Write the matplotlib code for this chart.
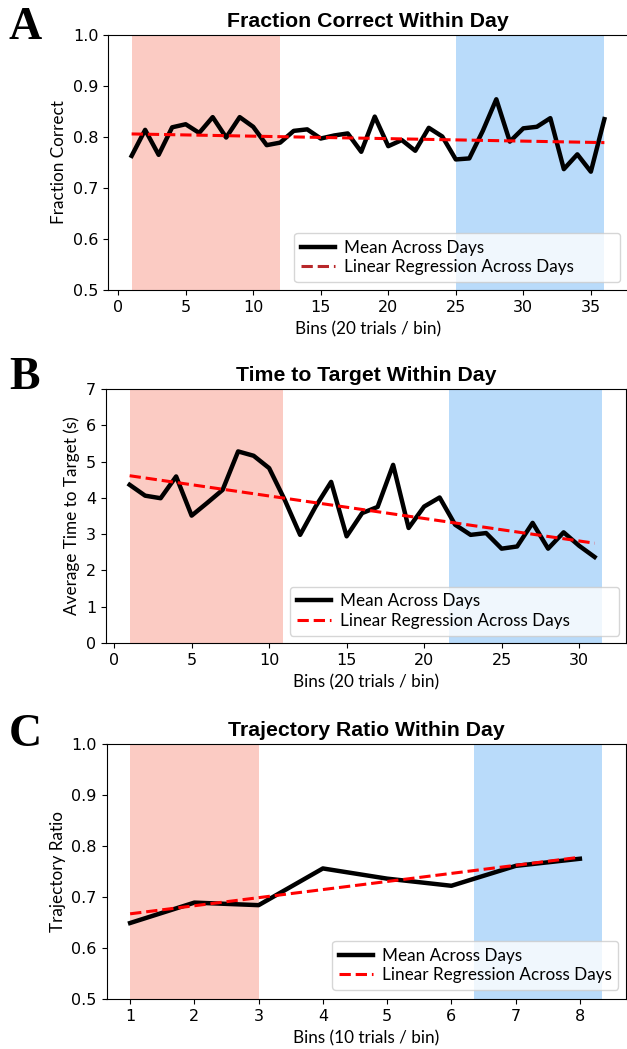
import matplotlib
matplotlib.use("Agg")
import matplotlib.pyplot as plt
import numpy as np

# panel A: fraction correct, 36 bins of 20 trials
bins_a = np.arange(1, 37)
frac_correct = [0.763, 0.814, 0.765, 0.819, 0.825, 0.808, 0.839, 0.799, 0.839, 0.820,
                0.784, 0.789, 0.812, 0.815, 0.797, 0.803, 0.807, 0.771, 0.840, 0.782,
                0.794, 0.773, 0.818, 0.801, 0.756, 0.758, 0.812, 0.874, 0.791, 0.817,
                0.820, 0.837, 0.737, 0.766, 0.732, 0.835]
reg_a_x = [1, 36]
reg_a_y = [0.806, 0.789]
early_a = (1, 12)
late_a = (25, 36)

# panel B: time to target, 31 bins of 20 trials
bins_b = np.arange(1, 32)
time_target = [4.36, 4.06, 3.99, 4.59, 3.51, 3.86, 4.22, 5.28, 5.16, 4.82,
               3.95, 2.98, 3.76, 4.44, 2.94, 3.58, 3.75, 4.91, 3.17, 3.76,
               4.01, 3.26, 2.98, 3.03, 2.60, 2.66, 3.31, 2.60, 3.05, 2.68, 2.37]
reg_b_x = [1, 31]
reg_b_y = [4.61, 2.75]
early_b = (1, 10.9)
late_b = (21.6, 31.5)

# panel C: trajectory ratio, 8 bins of 10 trials
bins_c = np.arange(1, 9)
traj_ratio = [0.649, 0.689, 0.684, 0.756, 0.736, 0.722, 0.761, 0.775]
reg_c_x = [1, 8]
reg_c_y = [0.667, 0.778]
early_c = (1, 3)
late_c = (6.35, 8.35)

W, H = 627, 1049
fig = plt.figure(figsize=(W / 100, H / 100), dpi=100)

label_font = "Lato"
label_size = 12.3
tick_size = 11.5


def px_axes(left, top, right, bottom):
    return fig.add_axes([left / W, 1 - bottom / H, (right - left) / W, (bottom - top) / H])


def panel(ax, x, y, rx, ry, early, late, title, xlabel, ylabel, ylim, yticks, xticks,
          leg_box, reg_legend_color="r"):
    ax.axvspan(*early, color="#fbcbc3", lw=0)
    ax.axvspan(*late, color="#b9dbfa", lw=0)
    ax.plot(x, y, color="black", lw=3.2, label="Mean Across Days")
    ax.plot(rx, ry, color="r", ls="--", lw=2.2, label="Linear Regression Across Days")
    ax.set_ylim(*ylim)
    ax.set_yticks(yticks)
    ax.set_xticks(xticks)
    ax.tick_params(labelsize=tick_size)
    ax.set_title(title, fontsize=15.3, fontweight="bold", family="Liberation Sans", pad=6)
    ax.set_xlabel(xlabel, family=label_font, fontsize=label_size, labelpad=5)
    ax.set_ylabel(ylabel, family=label_font, fontsize=label_size)
    leg = ax.legend(loc="lower left", bbox_to_anchor=leg_box, mode="expand", borderaxespad=0,
                    prop={"family": label_font, "size": label_size}, handlelength=2.0,
                    handletextpad=0.5, labelspacing=0.2, borderpad=0.4)
    leg.get_lines()[1].set_color(reg_legend_color)
    return ax


ax_a = px_axes(108, 35, 628, 290)
panel(ax_a, bins_a, frac_correct, reg_a_x, reg_a_y, early_a, late_a,
      "Fraction Correct Within Day", "Bins (20 trials / bin)", "Fraction Correct",
      (0.5, 1.0), np.arange(0.5, 1.01, 0.1), range(0, 36, 5),
      (0.358, 0.031, 0.627, 0.2), reg_legend_color="#b8282a")

ax_b = px_axes(106, 389, 626, 643)
panel(ax_b, bins_b, time_target, reg_b_x, reg_b_y, early_b, late_b,
      "Time to Target Within Day", "Bins (20 trials / bin)", "Average Time to Target (s)",
      (0, 7), range(0, 8), range(0, 31, 5),
      (0.354, 0.029, 0.633, 0.2))

ax_c = px_axes(106.5, 744, 626, 999)
panel(ax_c, bins_c, traj_ratio, reg_c_x, reg_c_y, early_c, late_c,
      "Trajectory Ratio Within Day", "Bins (10 trials / bin)", "Trajectory Ratio",
      (0.5, 1.0), np.arange(0.5, 1.01, 0.1), range(1, 9),
      (0.435, 0.036, 0.55, 0.2))

for letter, (lx, ly) in zip("ABC", [(25, 28), (24, 378), (25, 735)]):
    fig.text(lx / W, 1 - ly / H, letter, family="Liberation Serif", fontweight="bold",
             fontsize=33, ha="center", va="center")

fig.savefig("out.png", dpi=100)
